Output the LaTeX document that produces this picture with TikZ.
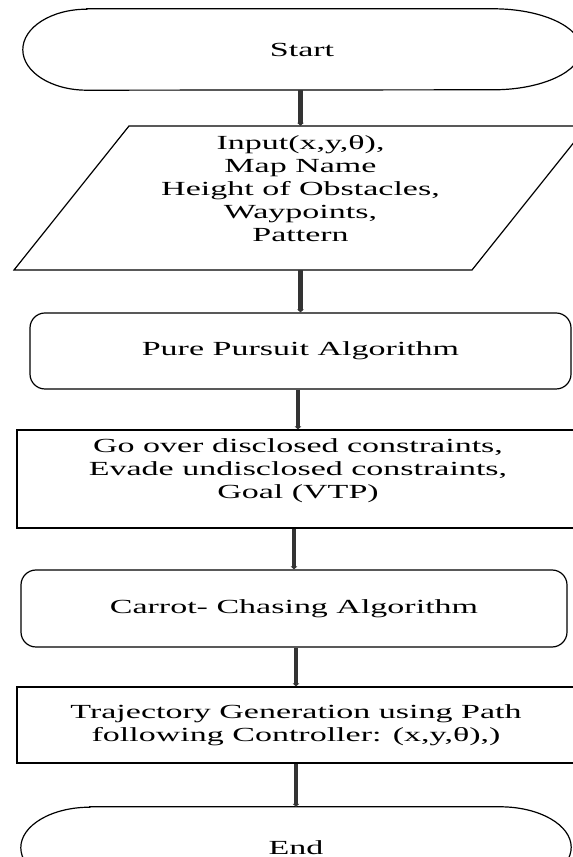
\documentclass[tikz,border=0pt]{standalone}
\usepackage{fontspec}
\setmainfont[FakeStretch=1.7]{Liberation Serif}
\usepackage{tikz}
\usetikzlibrary{calc, arrows.meta, shapes.geometric}

\tikzstyle{txt}      = [font=\fontsize{20}{23}\selectfont, align=center, inner sep=0pt]
\tikzstyle{startstop}= [txt, rectangle, minimum width=550pt, minimum height=81pt]
\tikzstyle{io}       = [txt, rectangle, minimum height=144pt, text depth=18pt]
\tikzstyle{process}  = [txt, rectangle, rounded corners=15pt, draw=black, line width=1.2pt]
\tikzstyle{block}    = [txt, rectangle, draw=black, line width=1.2pt]
\tikzstyle{outline}  = [draw=black, line width=1.2pt]
\tikzstyle{arrow}    = [line width=4.5pt, black!80, -{Triangle[width=6.5pt,length=3pt]}]

\begin{document}
\begin{tikzpicture}[x=1pt, y=1pt]
    \useasboundingbox (0,0) rectangle (573,857);
    \clip (0,0) rectangle (573,857);

    \node (start)  [startstop, minimum width=558pt] at (302,807.5) {Start};
    \node (input)  [io] at (300.5,659) {Input(x,y,θ),\\ Map Name\\ Height of Obstacles,\\ Waypoints,\\ Pattern};
    \node (pure)   [process, minimum width=541pt, minimum height=76pt] at (300.5,506) {Pure Pursuit Algorithm};
    \node (goover) [block, minimum width=562pt, minimum height=98pt, text depth=20pt] at (298,378)
        {Go over disclosed constraints,\\ Evade undisclosed constraints,\\ Goal (VTP)};
    \node (carrot) [process, minimum width=546pt, minimum height=77pt] at (294,248.5) {Carrot- Chasing Algorithm};
    \node (traj)   [block, minimum width=558pt, minimum height=76pt] at (296,132)
        {Trajectory Generation using Path\\ following Controller: (x,y,θ),)};
    \node (end)    [startstop] at (296,9.5) {End};

    % terminal outlines
    \draw [outline] ([xshift=64pt]start.north west) -- ([xshift=-88pt]start.north east)
        arc[start angle=90, end angle=-90, x radius=88, y radius=40.5]
        -- ([xshift=64pt]start.south west)
        arc[start angle=270, end angle=90, x radius=64, y radius=40.5] -- cycle;
    \draw [outline] ([xshift=69pt]end.north west) -- ([xshift=-71pt]end.north east)
        arc[start angle=90, end angle=-90, x radius=71, y radius=40.5]
        -- ([xshift=69pt]end.south west)
        arc[start angle=270, end angle=90, x radius=69, y radius=40.5] -- cycle;
    % input parallelogram
    \draw [outline] ($(input)+(-286.5,-72)$) -- ($(input)+(-171.5,72)$)
        -- ($(input)+(286.5,72)$) -- ($(input)+(171.5,-72)$) -- cycle;

    \draw [arrow] (start.south -| input.north) -- (input.north);
    \draw [arrow] (input.south -| pure.north)  -- (pure.north);
    \draw [arrow] (pure.south -| goover.north) -- (goover.north);
    \draw [arrow] (goover.south -| carrot.north) -- (carrot.north);
    \draw [arrow] (carrot.south -| traj.north) -- (traj.north);
    \draw [arrow] (traj.south -| end.north) -- (end.north);
\end{tikzpicture}
\end{document}
